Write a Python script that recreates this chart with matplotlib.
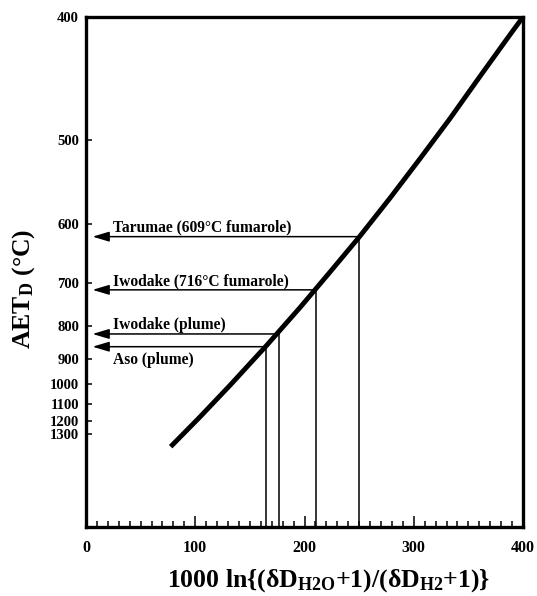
import numpy as np
import matplotlib
matplotlib.use('Agg')
import matplotlib.pyplot as plt
from matplotlib.ticker import FixedLocator, MultipleLocator, NullLocator

# calibration curve: x = 1000 ln alpha, t = temperature (deg C)
curve_x = [77.5, 104.3, 131.8, 164.8, 195.9, 223.3, 249.9, 278.3, 305.7, 333.2, 360.6, 388.1, 400.0]
curve_t = [1423, 1176, 1004, 857, 753, 679, 620, 565, 519, 479, 443, 412, 400]

sites = ['Tarumae (609°C fumarole)', 'Iwodake (716°C fumarole)', 'Iwodake (plume)', 'Aso (plume)']
site_x = [250.0, 210.5, 176.5, 164.5]
site_t = [619, 714, 821, 859]

y_ticks = [400, 500, 600, 700, 800, 900, 1000, 1100, 1200, 1300]

plt.rcParams['font.family'] = 'Liberation Serif'
plt.rcParams['font.weight'] = 'bold'
plt.rcParams['mathtext.fontset'] = 'custom'
plt.rcParams['mathtext.rm'] = 'Liberation Serif:bold'
plt.rcParams['mathtext.it'] = 'Liberation Serif:bold:italic'
plt.rcParams['mathtext.bf'] = 'Liberation Serif:bold'


def to_u(t):
    # axis is linear in 1/T^2 (T in kelvin)
    return 1e6 / (np.asarray(t, dtype=float) + 273.15) ** 2


def from_u(u):
    return 1e3 / np.sqrt(np.maximum(u, 1e-12)) - 273.15


fig = plt.figure(figsize=(5.37, 5.96), dpi=100)
ax = fig.add_axes([86 / 537, 1 - 527 / 596, 437 / 537, 510 / 596])
ax.set_yscale('function', functions=(to_u, from_u))
ax.set_xlim(0, 400)
ax.set_ylim(400, 1e9)

ax.plot(curve_x, curve_t, color='black', lw=3.5, solid_capstyle='butt',
        solid_joinstyle='round', zorder=3)

ax.vlines(site_x, site_t, 1e9, color='black', lw=1.1)
for name, x, t in zip(sites, site_x, site_t):
    ax.annotate('', xy=(6, t), xytext=(x, t),
                arrowprops=dict(arrowstyle='-|>,head_length=1.0,head_width=0.3',
                                color='black', lw=1.1, shrinkA=0, shrinkB=0))
    if name.startswith('Aso'):
        ax.annotate(name, xy=(25, t), xytext=(0, -12.5), textcoords='offset points',
                    va='baseline', ha='left', fontsize=11.2, fontweight='bold')
    else:
        ax.annotate(name, xy=(25, t), xytext=(0, 3.5), textcoords='offset points',
                    va='baseline', ha='left', fontsize=11.2, fontweight='bold')

ax.yaxis.set_major_locator(FixedLocator(y_ticks))
ax.yaxis.set_minor_locator(NullLocator())
ax.set_yticklabels([str(t) for t in y_ticks])
ax.xaxis.set_major_locator(MultipleLocator(100))
ax.xaxis.set_minor_locator(MultipleLocator(10))

for s in ax.spines.values():
    s.set_linewidth(2.4)
ax.tick_params(axis='x', which='major', direction='in', length=8, width=1.1,
               labelsize=11.5, pad=9)
ax.tick_params(axis='x', which='minor', direction='in', length=4, width=1.1)
ax.tick_params(axis='y', which='major', direction='in', length=4, width=1.1,
               labelsize=10.5, pad=5)

ax.set_xlabel(r'$\mathrm{1000\ ln\{(δD_{H2O}{+}1)/(δD_{H2}{+}1)\}}$', fontsize=18.5, va='center')
ax.xaxis.set_label_coords(0.556, -0.106)
ax.set_ylabel(r'$\mathrm{AET_D\ (°C)}$', fontsize=18.5, va='center')
ax.yaxis.set_label_coords(-0.143, 0.467)

fig.savefig('out.png', dpi=100)
